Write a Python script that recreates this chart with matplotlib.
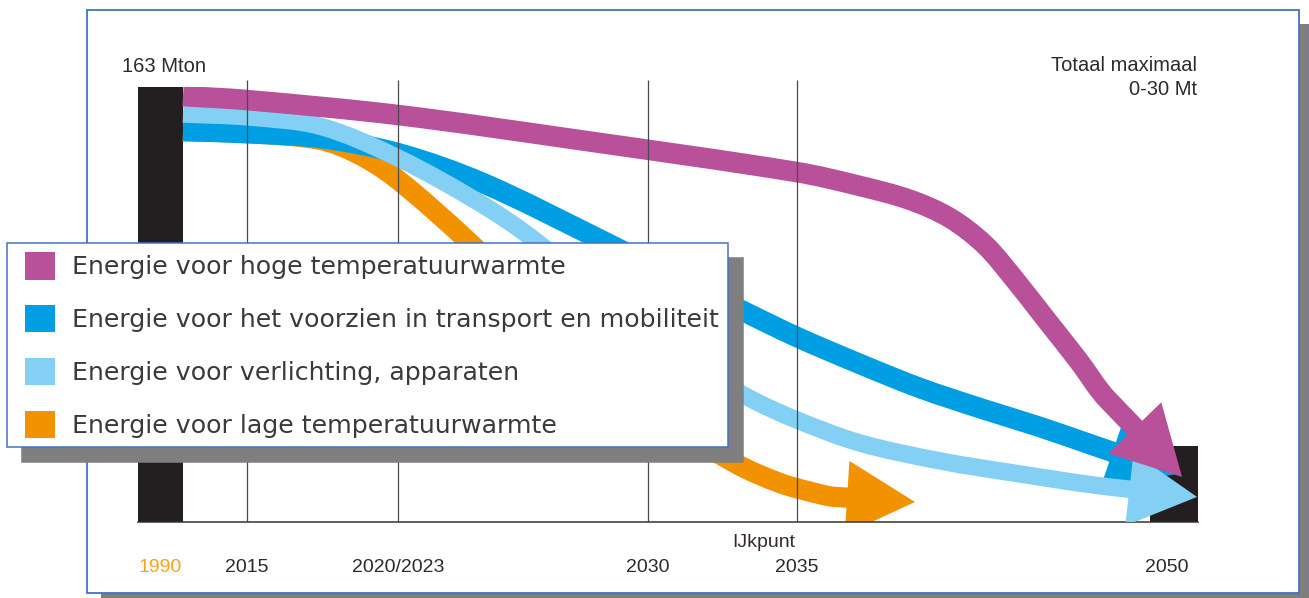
import numpy as np
import matplotlib.pyplot as plt
from matplotlib.path import Path
from matplotlib.patches import PathPatch, FancyArrowPatch, ArrowStyle, Patch, Rectangle
from matplotlib.legend_handler import HandlerPatch

plt.rcParams['font.family'] = ['Liberation Sans', 'DejaVu Sans']

# schematische tijdas (posities zijn niet lineair in jaren)
jaar_labels = ['1990', '2015', '2020/2023', '2030', '2035', '2050']
jaar_pos = [2.2, 10.9, 26.0, 51.0, 65.9, 102.9]
lijn_pos = [10.9, 26.0, 51.0, 65.9]

# staven 1990 en 2050 (Mton)
staaf_x = [0.0, 101.2]
staaf_b = [4.5, 4.8]
staaf_mt = [163, 28.5]

# banen per sector: positie op tijdas en Mton, plus punt van de pijl
hoog_x = [4.5, 10.9, 26.0, 44.2, 65.9, 72.2, 77.2, 81.2, 84.7, 87.7, 90.7, 94.0, 97.0]
hoog_mt = [159.6, 158.1, 152.5, 143.1, 131.1, 125.9, 120.7, 113.9, 103.8, 90.7, 76.4, 60.7, 45.7]
hoog_punt = (104.4, 16.9)

transport_x = [4.5, 10.9, 18.2, 26.0, 34.5, 46.7, 54.2, 61.5, 65.9, 72.2, 78.2, 84.5, 90.2, 95.7]
transport_mt = [146.5, 145.7, 143.9, 138.2, 127.0, 104.9, 90.7, 77.2, 69.3, 59.2, 50.2, 42.3, 35.6, 28.5]
transport_punt = (103.9, 18.0)

licht_x = [4.5, 10.9, 18.2, 26.0, 34.5, 39.9, 50.2, 56.2, 61.5, 65.9, 72.2, 80.2, 88.2, 97.2]
licht_mt = [152.9, 151.8, 148.3, 136.4, 118.8, 104.9, 72.7, 57.0, 45.7, 38.2, 29.6, 22.9, 18.0, 13.1]
licht_punt = (105.9, 9.4)

laag_x = [4.5, 10.9, 18.2, 22.2, 26.0, 33.1, 42.2, 51.2, 59.7, 64.2, 67.7, 69.7]
laag_mt = [146.5, 145.7, 143.2, 137.5, 128.2, 104.9, 71.9, 42.0, 22.1, 14.6, 10.9, 9.4]
laag_punt = (77.7, 7.5)

labels = ['Energie voor hoge temperatuurwarmte',
          'Energie voor het voorzien in transport en mobiliteit',
          'Energie voor verlichting, apparaten',
          'Energie voor lage temperatuurwarmte']
kleuren = ['#B8509A', '#009FE3', '#84CFF4', '#F39200']
zwart = '#231F20'

KOP_L, KOP_B = 49, 53  # pijlpunt lengte / breedte in pt


def baan(ax, xs, ys, punt, kleur, dikte, z):
    # vloeiende lijn door de punten (in schermcoordinaten), daarna pijlpunt
    T = ax.transData
    d = T.transform(np.column_stack([xs, ys]))
    pts = np.vstack([d, T.transform([punt])])
    h = np.hypot(*np.diff(pts, axis=0).T)
    n = len(d)
    m = np.zeros_like(d)
    m[0] = (pts[1] - pts[0]) / h[0]
    for i in range(1, n - 1):
        m[i] = (pts[i + 1] - pts[i - 1]) / (h[i - 1] + h[i])
    m[n - 1] = (pts[n] - pts[n - 1]) / h[n - 1]
    verts = [d[0]]
    codes = [Path.MOVETO]
    for i in range(n - 1):
        verts += [d[i] + m[i] * h[i] / 3, d[i + 1] - m[i + 1] * h[i] / 3, d[i + 1]]
        codes += [Path.CURVE4] * 3
    # schacht doorlopen tot net in de pijlpunt
    kop_px = KOP_L * fig.dpi / 72
    verts.append(pts[n] - m[n - 1] * kop_px * 0.85)
    codes.append(Path.LINETO)
    verts = T.inverted().transform(np.array(verts))
    ax.add_patch(PathPatch(Path(verts, codes), facecolor='none', edgecolor=kleur,
                           lw=dikte, capstyle='butt', joinstyle='round', zorder=z))
    stijl = ArrowStyle.Simple(head_length=KOP_L, head_width=KOP_B, tail_width=dikte * 0.9)
    ax.add_patch(FancyArrowPatch((xs[-1], ys[-1]), punt, arrowstyle=stijl, mutation_scale=1,
                                 color=kleur, lw=0, shrinkA=0, shrinkB=0, zorder=z))


fig = plt.figure(figsize=(13.09, 5.98), dpi=100)

# kader met schaduw
W, H = 1309, 598
fig.add_artist(Rectangle((101 / W, 1 - 607 / H), 1212 / W, 583 / H, transform=fig.transFigure,
                         facecolor='#7F7F7F', edgecolor='none', zorder=-3))
fig.add_artist(Rectangle((87 / W, 1 - 593 / H), 1212 / W, 583 / H, transform=fig.transFigure,
                         facecolor='white', edgecolor='#4472C4', lw=1.3, zorder=-2))

ax = fig.add_axes([138 / W, 76 / H, 1060 / W, 435 / H])
ax.patch.set_visible(False)
ax.set_xlim(0, 106)
ax.set_ylim(0, 163)

ax.bar(staaf_x, staaf_mt, width=staaf_b, align='edge', color=zwart, zorder=1)

baan(ax, laag_x, laag_mt, laag_punt, kleuren[3], 14.6, 2)
baan(ax, transport_x, transport_mt, transport_punt, kleuren[1], 14.8, 3)
baan(ax, licht_x, licht_mt, licht_punt, kleuren[2], 12.6, 4)
baan(ax, hoog_x, hoog_mt, hoog_punt, kleuren[0], 14.8, 5)

ax.vlines(lijn_pos, 0, 165.5, colors='#4A4A4A', lw=0.9, zorder=6, clip_on=False)

for s in ['top', 'right', 'left']:
    ax.spines[s].set_visible(False)
ax.spines['bottom'].set_color('#333333')
ax.spines['bottom'].set_linewidth(1.1)
ax.set_yticks([])
ax.set_xticks(jaar_pos, jaar_labels)
ax.tick_params(axis='x', length=0, pad=27, labelsize=14, labelcolor='#2B2B2B')
ax.get_xticklabels()[0].set_color('#F7A21B')

ax.text(65.7, -7.6, 'IJkpunt', ha='right', va='center', fontsize=14, color='#3A2A2A')
ax.text(-1.6, 170.5, '163 Mton', ha='left', va='center', fontsize=14.5, color='#2B2B2B')
ax.text(105.9, 170.9, 'Totaal maximaal', ha='right', va='center', fontsize=14.5, color='#2B2B2B')
ax.text(105.9, 161.9, '0-30 Mt', ha='right', va='center', fontsize=14.5, color='#2B2B2B')


def vlak(legend, orig_handle, xdescent, ydescent, width, height, fontsize):
    return Rectangle((-xdescent + 6.5, -ydescent), 21.6, height)


handles = [Patch(facecolor=k, edgecolor='none') for k in kleuren]
leg = ax.legend(handles, labels, loc='upper left', bbox_to_anchor=(7 / W, 1 - 243 / H),
                bbox_transform=fig.transFigure, borderaxespad=0, frameon=True, fancybox=False,
                framealpha=1, edgecolor='#4472C4', borderpad=0.36, labelspacing=1.0,
                handlelength=1.76, handleheight=1.3, handletextpad=0.44,
                prop={'family': 'DejaVu Sans', 'size': 18.2}, labelcolor='#3A3A3A',
                shadow={'ox': 10.8, 'oy': -10.8, 'facecolor': '#7F7F7F',
                        'edgecolor': '#7F7F7F', 'alpha': 1},
                handler_map={Patch: HandlerPatch(patch_func=vlak)})
leg.get_frame().set_linewidth(1.1)
leg.set_zorder(10)

fig.savefig('out.png', dpi=100)
